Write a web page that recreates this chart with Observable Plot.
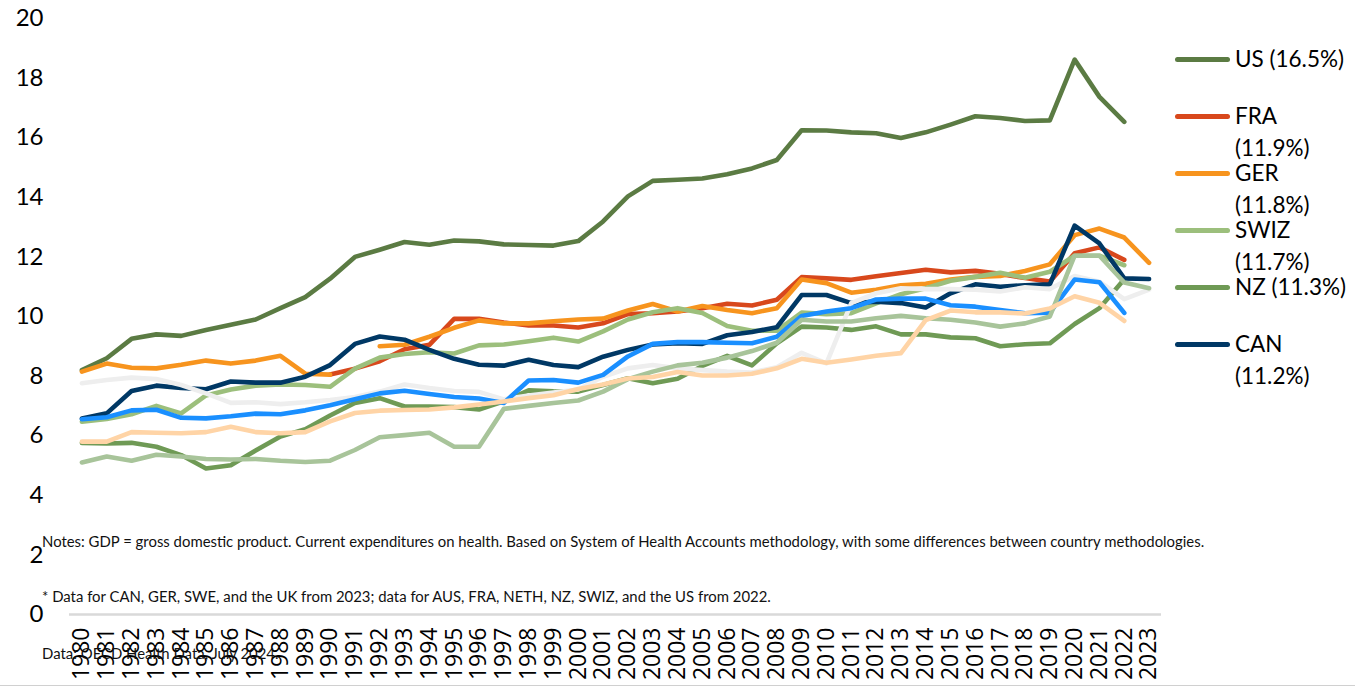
<!DOCTYPE html>
<html><head><meta charset="utf-8">
<script src="https://cdn.jsdelivr.net/npm/d3@7"></script>
<script src="https://cdn.jsdelivr.net/npm/@observablehq/plot@0.6"></script>
<style>
body{margin:0;background:#fff;}
#wrap{position:relative;width:1355px;height:687px;overflow:hidden;font-family:Lato,sans-serif;color:#000;}
#wrap svg{position:absolute;left:0;top:0;}
.chart [aria-label="y-axis tick label"]{font-family:Lato,sans-serif;font-size:24px;}
.chart [aria-label="x-axis tick label"]{font-family:"Open Sans",sans-serif;font-size:23px;}
.note{position:absolute;left:42px;font-size:14.9px;line-height:18px;color:#111;white-space:nowrap;}
.sw{position:absolute;width:55px;height:5px;border-radius:3px;}
.lab{position:absolute;font-size:22.5px;line-height:32px;white-space:nowrap;}
#bottom{position:absolute;left:0;top:685px;width:1355px;height:1px;background:#d0d0d0;}
</style></head><body><div id="wrap"></div>
<script>
const years = d3.range(1980, 2024);
const countries = ["US","FRA","GER","SWIZ","NZ","CAN","SWE","NETH","UK","AUS"];
const colors = ["#5B7B43","#D8481C","#F7941E","#9CBF7C","#6F9A55","#003865","#EEEEEE","#1A8FFF","#A8C49A","#FFD4A6"];
const US = [8.2,8.6,9.25,9.4,9.35,9.55,9.72,9.9,10.28,10.65,11.27,12.0,12.24,12.5,12.41,12.55,12.52,12.42,12.4,12.38,12.53,13.19,14.03,14.55,14.59,14.63,14.77,14.97,15.25,16.25,16.24,16.18,16.15,15.99,16.18,16.44,16.72,16.66,16.56,16.58,18.62,17.37,16.53,null];
const FRA = [null,null,null,null,null,null,null,null,null,null,8.05,8.25,8.5,8.9,9.05,9.92,9.92,9.8,9.7,9.7,9.63,9.77,10.08,10.11,10.17,10.28,10.43,10.37,10.56,11.32,11.28,11.23,11.35,11.46,11.57,11.48,11.53,11.43,11.29,11.17,12.12,12.32,11.9,null];
const GER = [8.15,8.42,8.28,8.26,8.38,8.52,8.42,8.52,8.68,8.08,8.05,null,9.0,9.05,9.32,9.62,9.87,9.77,9.77,9.84,9.9,9.93,10.2,10.42,10.17,10.35,10.22,10.11,10.28,11.24,11.12,10.8,10.9,11.05,11.1,11.24,11.33,11.36,11.53,11.75,12.73,12.95,12.65,11.8];
const SWIZ = [6.47,6.56,6.72,7.0,6.75,7.35,7.55,7.68,7.72,7.7,7.64,8.25,8.62,8.74,8.8,8.76,9.03,9.06,9.17,9.29,9.16,9.5,9.9,10.14,10.28,10.12,9.68,9.52,9.52,10.13,10.08,10.11,10.44,10.75,10.95,11.2,11.33,11.47,11.3,11.5,12.04,12.04,11.72,null];
const NZ = [5.76,5.74,5.76,5.63,5.35,4.9,5.01,5.5,5.97,6.22,6.68,7.1,7.26,6.98,6.98,6.96,6.88,7.15,7.52,7.49,7.48,7.7,7.93,7.76,7.91,8.34,8.68,8.36,9.1,9.66,9.63,9.55,9.67,9.4,9.4,9.3,9.27,9.0,9.07,9.1,9.75,10.28,11.25,null];
const CAN = [6.58,6.75,7.5,7.68,7.6,7.56,7.82,7.78,7.78,7.98,8.37,9.08,9.33,9.22,8.88,8.58,8.38,8.35,8.55,8.37,8.3,8.65,8.88,9.06,9.1,9.08,9.37,9.48,9.64,10.72,10.72,10.45,10.5,10.45,10.3,10.78,11.08,11.0,11.05,11.08,13.05,12.45,11.28,11.26];
const SWE = [7.76,7.87,7.95,7.9,7.7,7.42,7.1,7.12,7.06,7.12,7.2,7.3,7.48,7.72,7.6,7.5,7.47,7.22,7.35,7.45,7.55,7.98,8.26,8.37,8.26,8.2,8.15,8.12,8.3,8.78,8.43,10.45,10.78,10.95,10.92,10.92,10.9,10.84,10.98,10.92,11.36,11.17,10.58,10.9];
const NETH = [6.55,6.62,6.85,6.87,6.6,6.58,6.65,6.74,6.72,6.85,7.02,7.22,7.42,7.51,7.4,7.3,7.25,7.1,7.85,7.87,7.78,8.04,8.66,9.08,9.14,9.14,9.12,9.1,9.32,10.02,10.17,10.28,10.57,10.6,10.6,10.38,10.33,10.22,10.11,10.13,11.24,11.15,10.12,null];
const UK = [5.1,5.3,5.16,5.36,5.3,5.22,5.2,5.22,5.16,5.12,5.16,5.52,5.95,6.02,6.1,5.63,5.63,6.9,7.0,7.1,7.18,7.48,7.9,8.15,8.36,8.45,8.62,8.84,9.12,9.89,9.83,9.83,9.94,10.02,9.94,9.89,9.8,9.66,9.77,10.0,12.04,12.04,11.14,10.95];
const AUS = [5.8,5.8,6.12,6.1,6.08,6.12,6.3,6.12,6.08,6.12,6.48,6.76,6.84,6.86,6.88,6.95,7.05,7.15,7.26,7.36,7.57,7.72,7.92,7.97,8.14,8.02,8.02,8.08,8.26,8.58,8.45,8.56,8.68,8.77,9.88,10.2,10.14,10.14,10.1,10.27,10.68,10.46,9.85,null];
const series = {US, FRA, GER, SWIZ, NZ, CAN, SWE, NETH, UK, AUS};
const yTicks = [0,2,4,6,8,10,12,14,16,18,20];
const legendNames = ["US (16.5%)","FRA\n(11.9%)","GER\n(11.8%)","SWIZ\n(11.7%)","NZ (11.3%)","CAN\n(11.2%)"];
const notes = [
  "Notes: GDP = gross domestic product. Current expenditures on health. Based on System of Health Accounts methodology, with some differences between country methodologies.",
  "* Data for CAN, GER, SWE, and the UK from 2023; data for AUS, FRA, NETH, NZ, SWIZ, and the US from 2022.",
  "Data: OECD Health Data, July 2024."
];

const data = [];
for (const c of countries) series[c].forEach((v, i) => data.push({country: c, year: years[i], value: v}));

const chart = Plot.plot({
  width: 1355, height: 687,
  marginLeft: 69, marginRight: 194, marginTop: 18, marginBottom: 73,
  className: "chart",
  x: {type: "point", domain: years, padding: 0.5},
  y: {domain: [0, 20]},
  color: {domain: countries, range: colors},
  marks: [
    Plot.ruleY([0], {stroke: "#d9d9d9", strokeWidth: 2.5}),
    Plot.axisY({ticks: yTicks, tickSize: 0, tickPadding: 26, label: null}),
    Plot.axisX({tickSize: 0, tickPadding: 13, tickRotate: -90, tickFormat: d => String(d), label: null}),
    Plot.line(data, {x: "year", y: "value", z: "country", stroke: "country", strokeWidth: 4.6, strokeLinejoin: "round", strokeLinecap: "round"})
  ]
});
const wrap = document.getElementById("wrap");
wrap.appendChild(chart);

const noteTops = [532, 587, 644];
notes.forEach((t, i) => {
  const d = document.createElement("div");
  d.className = "note"; d.style.top = noteTops[i] + "px"; d.textContent = t;
  wrap.appendChild(d);
});
legendNames.forEach((name, i) => {
  const cy = 59 + i * 57;
  const sw = document.createElement("div");
  sw.className = "sw"; sw.style.left = "1175px"; sw.style.top = (cy - 2.5) + "px";
  sw.style.background = colors[i];
  wrap.appendChild(sw);
  const lab = document.createElement("div");
  lab.className = "lab"; lab.style.left = "1235px"; lab.style.top = (cy - 16) + "px";
  lab.innerHTML = name.replace("\n", "<br>");
  wrap.appendChild(lab);
});
const b = document.createElement("div"); b.id = "bottom"; wrap.appendChild(b);
</script></body></html>
